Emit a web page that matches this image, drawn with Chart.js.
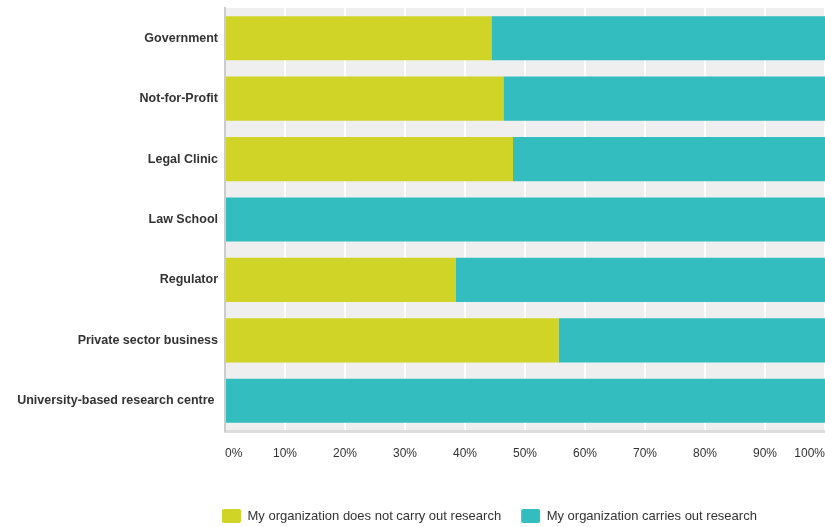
<!DOCTYPE html>
<html>
<head>
<meta charset="utf-8">
<title>Research activity by organization type</title>
<script src="https://cdn.jsdelivr.net/npm/chart.js@4/dist/chart.umd.min.js"></script>
<style>
  html, body { margin: 0; padding: 0; background: #ffffff; overflow: hidden; }
  #wrap { width: 825px; height: 527px; position: relative; }
</style>
</head>
<body>
<div id="wrap"><canvas id="chart"></canvas></div>
<script>
// Organization types (one bar each)
const categories = [
  'Government',
  'Not-for-Profit',
  'Legal Clinic',
  'Law School',
  'Regulator',
  'Private sector business',
  'University-based research centre '
];

// Share of respondents (%) per organization type
const noResearch = [44.4, 46.4, 48.0, 0, 38.5, 55.6, 0];
const doesResearch = [55.6, 53.6, 52.0, 100, 61.5, 44.4, 100];

const seriesNames = [
  'My organization does not carry out research',
  'My organization carries out research'
];

const xTicks = [0, 10, 20, 30, 40, 50, 60, 70, 80, 90, 100];

const FONT = '"Liberation Sans", Arial, sans-serif';

// Grey plot background behind grid and bars
const plotBackground = {
  id: 'plotBackground',
  beforeDraw(chart) {
    const { ctx, chartArea: a } = chart;
    ctx.save();
    ctx.fillStyle = '#efefef';
    ctx.fillRect(a.left, a.top, a.right - a.left, a.bottom - a.top);
    ctx.restore();
  }
};

// Legend sits under the plot, starting just left of the value axis
const legendPlacement = {
  id: 'legendPlacement',
  afterLayout(chart) {
    const lg = chart.legend;
    if (!lg) return;
    const dx = 202, dy = 6;
    lg.left += dx;
    lg.right += dx;
    lg.top += dy;
    lg.bottom += dy;
  }
};

new Chart(document.getElementById('chart'), {
  type: 'bar',
  data: {
    labels: categories,
    datasets: [
      {
        label: seriesNames[0],
        data: noResearch,
        backgroundColor: '#cfd427',
        borderWidth: 0,
        categoryPercentage: 1,
        barPercentage: 0.73
      },
      {
        label: seriesNames[1],
        data: doesResearch,
        backgroundColor: '#33bdbf',
        borderWidth: 0,
        categoryPercentage: 1,
        barPercentage: 0.73
      }
    ]
  },
  options: {
    indexAxis: 'y',
    responsive: true,
    maintainAspectRatio: false,
    animation: false,
    layout: { padding: { top: 8, right: 0, bottom: 0, left: 0 } },
    plugins: {
      tooltip: { enabled: false },
      legend: {
        position: 'bottom',
        align: 'start',
        labels: {
          boxWidth: 19,
          boxHeight: 14,
          padding: 20,
          useBorderRadius: true,
          borderRadius: 2,
          color: '#333333',
          font: { family: FONT, size: 13 }
        }
      }
    },
    scales: {
      x: {
        stacked: true,
        min: 0,
        max: 100,
        afterBuildTicks(scale) {
          scale.ticks = xTicks.map(v => ({ value: v }));
        },
        ticks: {
          align: 'inner',
          padding: 15,
          color: '#333333',
          font: { family: FONT, size: 12 },
          callback: v => v + '%'
        },
        grid: { color: '#ffffff', lineWidth: 2, drawTicks: false },
        border: { display: true, color: '#dddddd', width: 3 },
        afterFit(scale) {
          scale.height = 52;
          scale.paddingLeft = 0;
          scale.paddingRight = 0;
        }
      },
      y: {
        stacked: true,
        ticks: {
          padding: 7,
          color: '#333333',
          font: { family: FONT, size: 12.5, weight: 'bold' }
        },
        grid: { display: false, drawTicks: false },
        border: { display: true, color: '#cccccc', width: 2 },
        afterFit(scale) {
          scale.width = 225;
          scale.paddingTop = 0;
          scale.paddingBottom = 0;
        }
      }
    }
  },
  plugins: [plotBackground, legendPlacement]
});
</script>
</body>
</html>
